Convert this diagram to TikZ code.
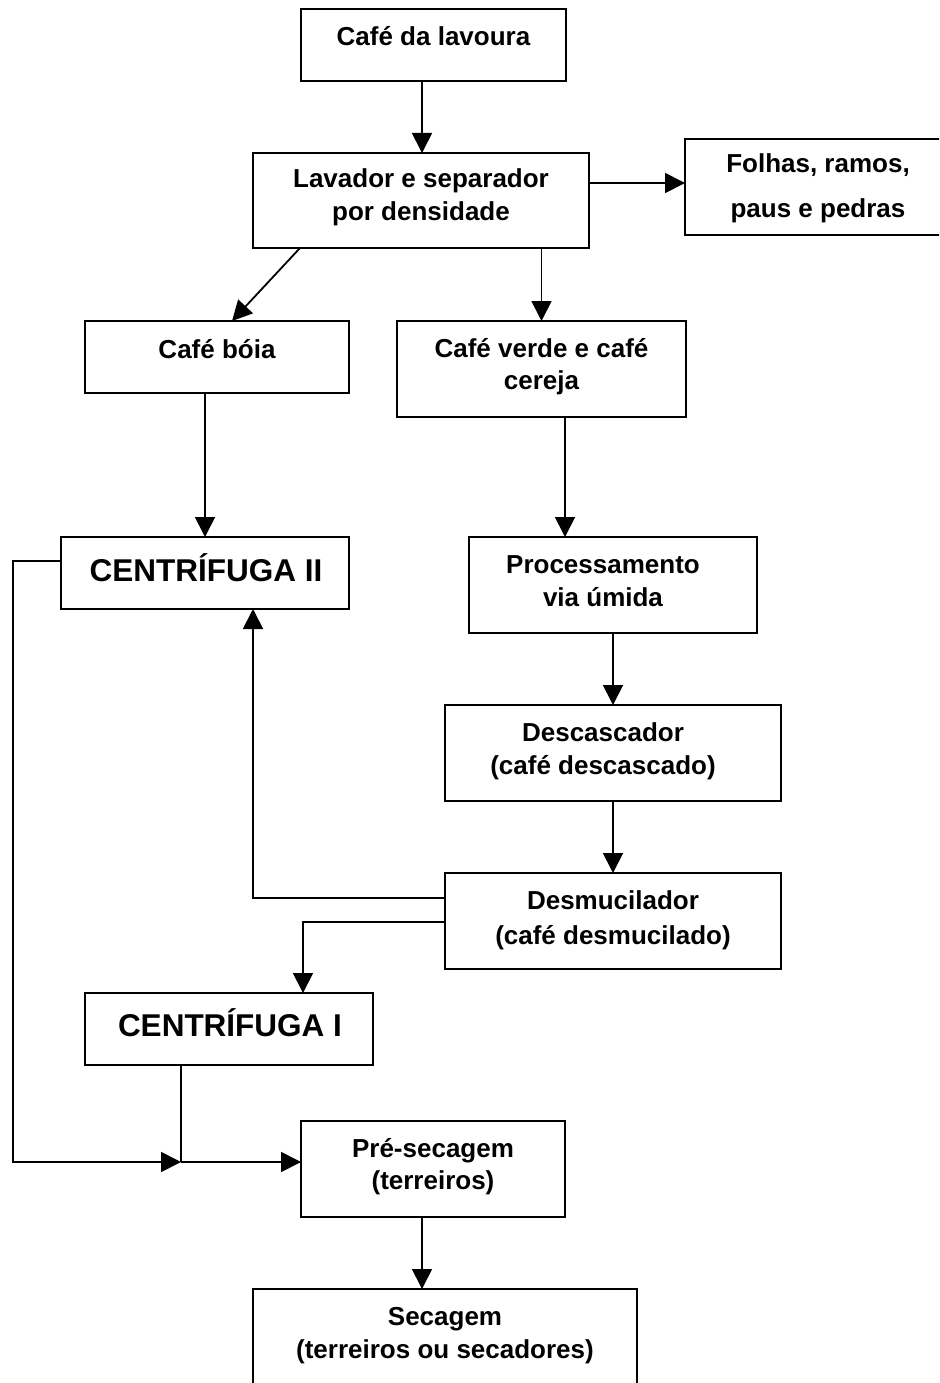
\documentclass[tikz,border=0pt]{standalone}
\usepackage{fontspec}
\setmainfont{Liberation Sans}
\usetikzlibrary{arrows.meta,calc,fit}
\begin{document}
\begin{tikzpicture}[x=1pt,y=-1pt,
  box/.style={draw, line width=1.8pt, inner sep=0pt, outer sep=0pt, rectangle},
  txt/.style={font=\bfseries\fontsize{26}{30}\selectfont, anchor=base, inner sep=0pt},
  big/.style={font=\bfseries\fontsize{31.5}{36}\selectfont, anchor=base, inner sep=0pt},
  conn/.style={line width=1.8pt},
  arr/.style={conn, -{Triangle[length=20pt,width=20pt]}}]
\path[use as bounding box, clip] (0,0) rectangle (939,1383);
\fill[white] (0,0) rectangle (939,1383);

% boxes
\node[box, fit={(301,9) (566,81)}] (cdl) {};
\node[box, fit={(253,153) (589,248)}] (lav) {};
\node[box, fit={(685,139) (951,235)}] (fol) {};
\node[box, fit={(85,321) (349,393)}] (boia) {};
\node[box, fit={(397,321) (686,417)}] (verde) {};
\node[box, fit={(61,537) (349,609)}] (c2) {};
\node[box, fit={(469,537) (757,633)}] (proc) {};
\node[box, fit={(445,705) (781,801)}] (desc) {};
\node[box, fit={(445,873) (781,969)}] (dm) {};
\node[box, fit={(85,993) (373,1065)}] (c1) {};
\node[box, fit={(301,1121) (565,1217)}] (pre) {};
\node[box, fit={(253,1289) (637,1395)}] (sec) {};

% texts
\node[txt] (t-cdl) at (433.5,46) {Café da lavoura};
\node[txt] (t-lav1) at (421,188) {Lavador e separador};
\node[txt] (t-lav2) at (421,220) {por densidade};
\node[txt] (t-fol1) at (818,173) {Folhas, ramos,};
\node[txt] (t-fol2) at (818,217) {paus e pedras};
\node[txt] (t-boia) at (217,358) {Café bóia};
\node[txt] (t-verde1) at (541.5,357) {Café verde e café};
\node[txt] (t-verde2) at (541.5,389) {cereja};
\node[big] (t-c2) at (206,581) {CENTRÍFUGA II};
\node[txt] (t-proc1) at (603,573) {Processamento};
\node[txt] (t-proc2) at (603,606) {via úmida};
\node[txt] (t-desc1) at (603,741) {Descascador};
\node[txt] (t-desc2) at (603,774) {(café descascado)};
\node[txt] (t-dm1) at (613,909) {Desmucilador};
\node[txt] (t-dm2) at (613,944) {(café desmucilado)};
\node[big] (t-c1) at (230,1036) {CENTRÍFUGA I};
\node[txt] (t-pre1) at (433,1157) {Pré-secagem};
\node[txt] (t-pre2) at (433,1189) {(terreiros)};
\node[txt] (t-sec1) at (445,1325) {Secagem};
\node[txt] (t-sec2) at (445,1358) {(terreiros ou secadores)};

% junction points
\coordinate (j) at ($(c1.south west)+(96,97)$);
\coordinate (corner) at ($(c2.north west)+(-48,625)$);

% connectors
\draw[arr] ($(cdl.south)+(-11.5,0)$) coordinate (a1) -- (a1 |- lav.north);
\draw[arr] ($(lav.north east)+(0,30)$) coordinate (a2) -- (a2 -| fol.west);
\draw[arr] ($(lav.south west)+(47,0)$) -- ($(boia.north west)+(147,0)$);
\draw[arr] (lav.south -| verde.north) -- (verde.north);
\draw[arr] (boia.south -| c2.north) -- (c2.north);
\draw[arr] ($(verde.south)+(23.5,0)$) coordinate (a6) -- (a6 |- proc.north);
\draw[arr] (proc.south) -- (desc.north);
\draw[arr] (desc.south) -- (dm.north);
\draw[arr] ($(dm.north west)+(0,25)$) -| ($(c2.south west)+(192,0)$);
\draw[arr] ($(dm.north west)+(0,49)$) -| ($(c1.north west)+(218,0)$);
\draw[arr] ($(c2.north west)+(0,24)$) -| (corner) -- (j);
\draw[conn] (j |- c1.south) -- (j);
\draw[arr] (j) -- (j -| pre.west);
\draw[arr] ($(pre.south)+(-11,0)$) coordinate (a13) -- (a13 |- sec.north);
\end{tikzpicture}
\end{document}
